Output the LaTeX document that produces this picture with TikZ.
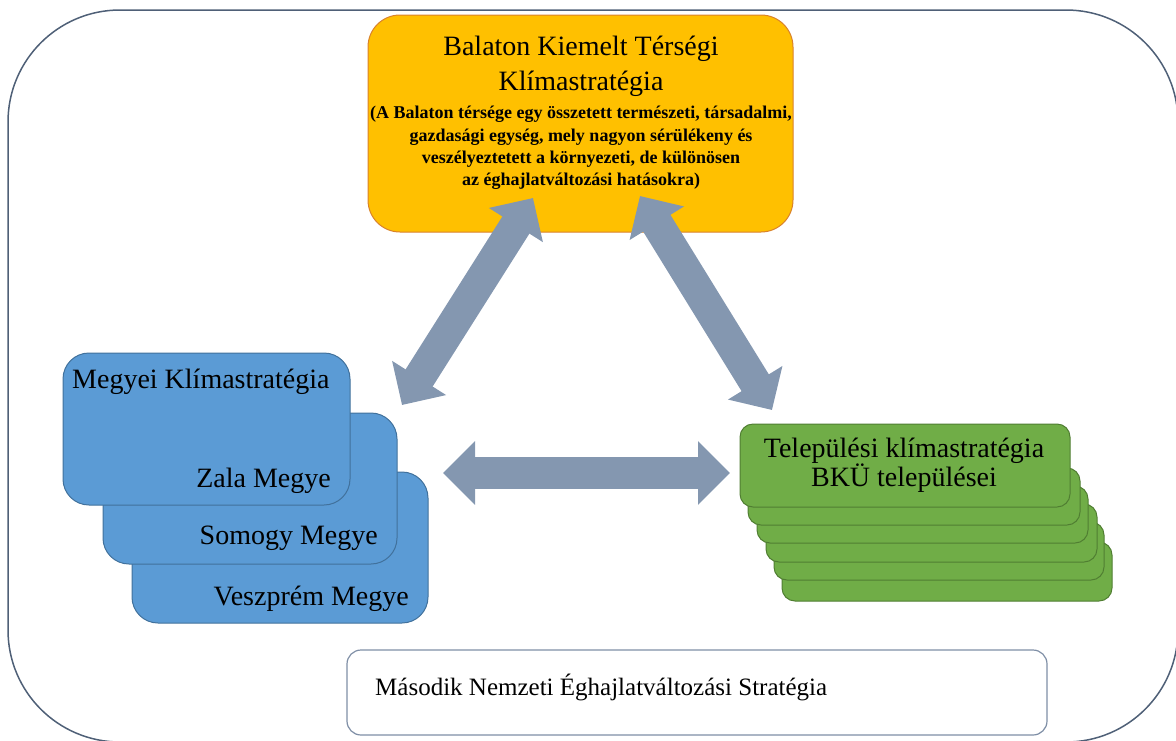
\documentclass[tikz,border=0pt]{standalone}
\usepackage{fontspec}
\setmainfont{Liberation Serif}
\usetikzlibrary{arrows.meta}
\definecolor{orangefill}{HTML}{FFC000}
\definecolor{orangeline}{HTML}{D9822B}
\definecolor{bluefill}{HTML}{5B9BD5}
\definecolor{blueline}{HTML}{41719C}
\definecolor{greenfill}{HTML}{70AD47}
\definecolor{greenline}{HTML}{507E32}
\definecolor{arrowcol}{HTML}{8497B0}
\definecolor{outerline}{HTML}{4F6077}
\definecolor{boxline}{HTML}{7F8FA6}
\tikzset{
  obox/.style={draw=orangeline, fill=orangefill, line width=1pt, rounded corners=32pt, inner sep=0pt},
  bbox/.style={draw=blueline, fill=bluefill, line width=1pt, rounded corners=26pt, inner sep=0pt},
  gbox/.style={draw=greenline, fill=greenfill, line width=1pt, rounded corners=13pt, inner sep=0pt},
  wbox/.style={draw=boxline, fill=white, line width=1.2pt, rounded corners=14pt, inner sep=0pt},
  big/.style={font=\fontsize{28}{34}\selectfont, inner sep=0pt},
  small/.style={font=\fontsize{18}{22}\selectfont\bfseries, inner sep=0pt},
  bigarrow/.style={draw=arrowcol, line width=32pt,
    {Triangle[length=32pt,width=62pt]}-{Triangle[length=32pt,width=62pt]}}
}
\begin{document}
\begin{tikzpicture}[x=1pt,y=-1pt]
\useasboundingbox (0,0) rectangle (1176,740);
\draw[outerline, line width=1.5pt, rounded corners=112pt] (8,10) rectangle (1178,742);

% orange box
\node[obox, minimum width=425pt, minimum height=217pt] (orange) at (580.5,123.5) {};
\node[big, anchor=base] (t1) at (581,55) {Balaton Kiemelt Térségi};
\node[big, anchor=base] (t2) at (581,90) {Klímastratégia};
\node[small, anchor=base] (s1) at (581,118) {(A Balaton térsége egy összetett természeti, társadalmi,};
\node[small, anchor=base] (s2) at (581,141) {gazdasági egység, mely nagyon sérülékeny és};
\node[small, anchor=base] (s3) at (581,163) {veszélyeztetett a környezeti, de különösen};
\node[small, anchor=base] (s4) at (581,185) {az éghajlatváltozási hatásokra)};

% blue boxes
\node[bbox, minimum width=296pt, minimum height=151pt] (b3) at (280,547.5) {};
\node[bbox, minimum width=294pt, minimum height=151pt] (b2) at (250,488.5) {};
\node[bbox, minimum width=287pt, minimum height=152pt] (b1) at (206.5,429) {};
\node[big, anchor=base west] (megyei) at (72,388) {Megyei Klímastratégia};
\node[big, anchor=base east] (zala) at (331,487) {Zala Megye};
\node[big, anchor=base east] (somogy) at (378,544) {Somogy Megye};
\node[big, anchor=base east] (veszprem) at (409,605) {Veszprém Megye};

% green boxes
\node[gbox, minimum width=330pt, minimum height=59pt] (g6) at (947,571.5) {};
\node[gbox, minimum width=330pt, minimum height=58pt] (g5) at (939,551) {};
\node[gbox, minimum width=331pt, minimum height=58pt] (g4) at (931.5,533) {};
\node[gbox, minimum width=331pt, minimum height=57pt] (g3) at (922.5,514.5) {};
\node[gbox, minimum width=332pt, minimum height=57pt] (g2) at (914,496.5) {};
\node[gbox, minimum width=330pt, minimum height=83pt] (g1) at (905,465.5) {};
\node[big, anchor=base] (tel1) at (904,457) {Települési klímastratégia};
\node[big, anchor=base] (tel2) at (904,486) {BKÜ települései};

% bottom box
\node[wbox, minimum width=700pt, minimum height=85pt] (nes) at (697,692.5) {};
\node[font=\fontsize{25}{30}\selectfont, inner sep=0pt, anchor=base west] (nestext) at (375,695) {Második Nemzeti Éghajlatváltozási Stratégia};

% arrows
\coordinate (la) at (402,405);
\coordinate (lb) at (533,198);
\coordinate (ra) at (640,196);
\coordinate (rb) at (772,410);
\coordinate (ha) at (443,473);
\coordinate (hb) at (730,473);
\draw[bigarrow] (la) -- (lb);
\draw[bigarrow] (ra) -- (rb);
\draw[bigarrow] (ha) -- (hb);
\end{tikzpicture}
\end{document}
